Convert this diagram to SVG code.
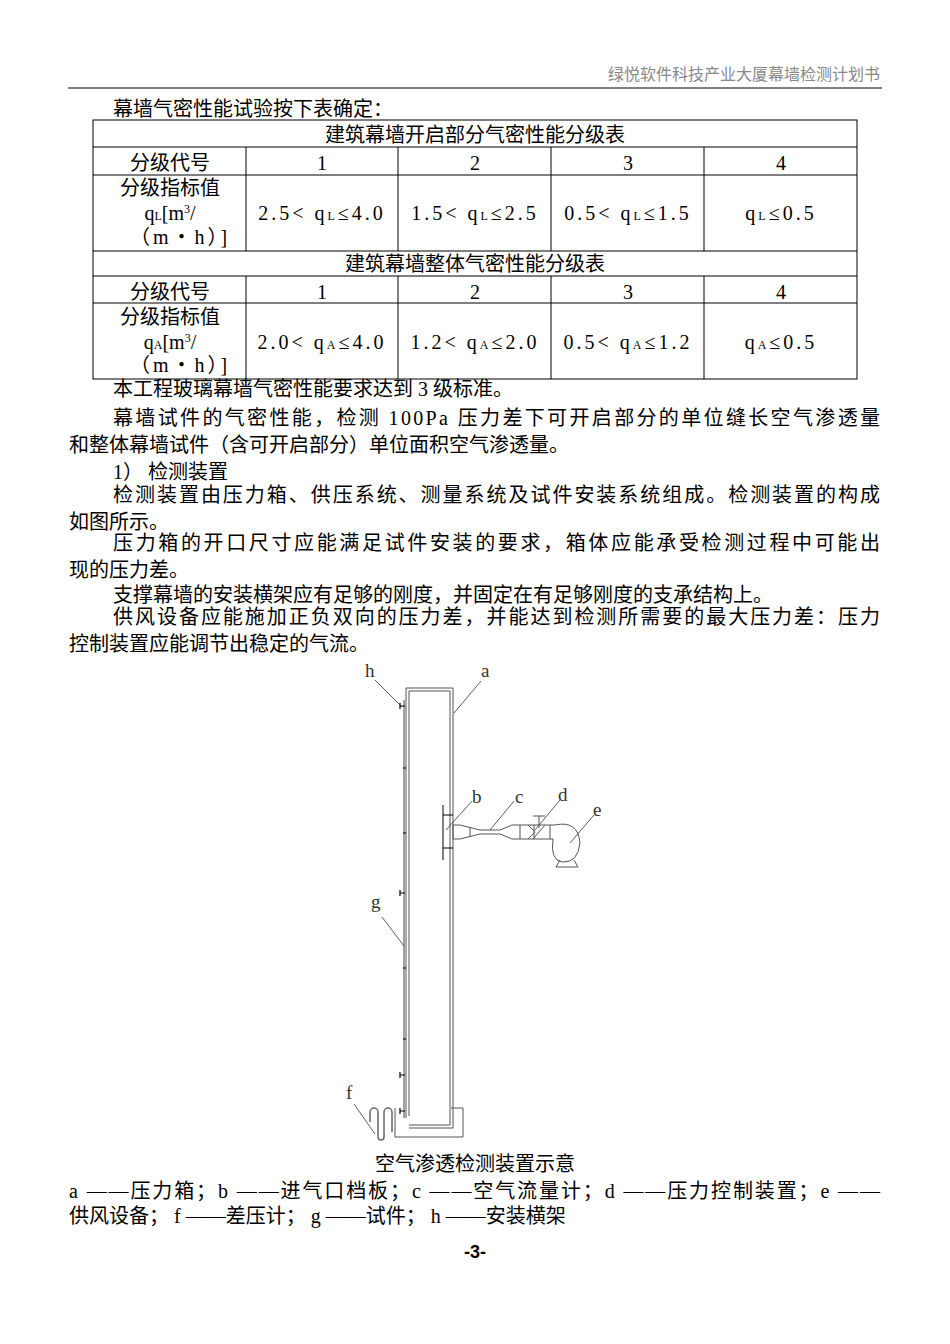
<svg xmlns="http://www.w3.org/2000/svg" width="950" height="1344" viewBox="0 0 950 1344">
<style>
text{font-family:"Liberation Serif","Noto Sans CJK SC",serif;font-size:20px;fill:#000}
.c{text-anchor:middle}
.n{letter-spacing:3px}
.t{stroke:#000;stroke-width:1;fill:none}
.d{stroke:#555;stroke-width:1;fill:none}
.lab{font-size:19px;fill:#333}
</style>
<rect width="950" height="1344" fill="#fff"/>
<text x="880" y="80" text-anchor="end" style="font-size:16px;fill:#888">绿悦软件科技产业大厦幕墙检测计划书</text>
<line x1="68" y1="88" x2="882" y2="88" stroke="#000"/>
<text x="113" y="116">幕墙气密性能试验按下表确定：</text>
<g id="table">
<rect class="t" x="93" y="120" width="764" height="259"/>
<g class="t">
<line x1="93" y1="147" x2="857" y2="147"/><line x1="93" y1="175" x2="857" y2="175"/>
<line x1="93" y1="251" x2="857" y2="251"/><line x1="93" y1="276" x2="857" y2="276"/>
<line x1="93" y1="303" x2="857" y2="303"/>
<line x1="246" y1="147" x2="246" y2="251"/><line x1="398" y1="147" x2="398" y2="251"/><line x1="551" y1="147" x2="551" y2="251"/><line x1="704" y1="147" x2="704" y2="251"/>
<line x1="246" y1="276" x2="246" y2="379"/><line x1="398" y1="276" x2="398" y2="379"/><line x1="551" y1="276" x2="551" y2="379"/><line x1="704" y1="276" x2="704" y2="379"/>
</g>
<text class="c" x="475" y="142">建筑幕墙开启部分气密性能分级表</text>
<text class="c" x="170" y="170">分级代号</text><text class="c" x="322" y="170">1</text><text class="c" x="475" y="170">2</text><text class="c" x="628" y="170">3</text><text class="c" x="781" y="170">4</text>
<text class="c" x="170" y="195">分级指标值</text>
<text class="c" x="170" y="220">q<tspan font-size="12">L</tspan>[m<tspan font-size="12" dy="-7">3</tspan><tspan dy="7">/</tspan></text>
<text class="c n" x="180" y="244">（m・h）]</text>
<text class="c n" x="322" y="220">2.5&lt; q<tspan font-size="12">L</tspan>≤4.0</text>
<text class="c n" x="475" y="220">1.5&lt; q<tspan font-size="12">L</tspan>≤2.5</text>
<text class="c n" x="628" y="220">0.5&lt; q<tspan font-size="12">L</tspan>≤1.5</text>
<text class="c n" x="781" y="220">q<tspan font-size="12">L</tspan>≤0.5</text>
<text class="c" x="475" y="271">建筑幕墙整体气密性能分级表</text>
<text class="c" x="170" y="299">分级代号</text><text class="c" x="322" y="299">1</text><text class="c" x="475" y="299">2</text><text class="c" x="628" y="299">3</text><text class="c" x="781" y="299">4</text>
<text class="c" x="170" y="324">分级指标值</text>
<text class="c" x="170" y="349">q<tspan font-size="12">A</tspan>[m<tspan font-size="12" dy="-7">3</tspan><tspan dy="7">/</tspan></text>
<text class="c n" x="180" y="372">（m・h）]</text>
<text class="c n" x="322" y="349">2.0&lt; q<tspan font-size="12">A</tspan>≤4.0</text>
<text class="c n" x="475" y="349">1.2&lt; q<tspan font-size="12">A</tspan>≤2.0</text>
<text class="c n" x="628" y="349">0.5&lt; q<tspan font-size="12">A</tspan>≤1.2</text>
<text class="c n" x="781" y="349">q<tspan font-size="12">A</tspan>≤0.5</text>
</g>
<text x="113" y="396">本工程玻璃幕墙气密性能要求达到 3 级标准。</text>
<text x="113" y="425" textLength="767">幕墙试件的气密性能，检测 100Pa 压力差下可开启部分的单位缝长空气渗透量</text>
<text x="69" y="452">和整体幕墙试件（含可开启部分）单位面积空气渗透量。</text>
<text x="113" y="479">1） 检测装置</text>
<text x="113" y="502" textLength="767">检测装置由压力箱、供压系统、测量系统及试件安装系统组成。检测装置的构成</text>
<text x="69" y="529">如图所示。</text>
<text x="113" y="550" textLength="767">压力箱的开口尺寸应能满足试件安装的要求，箱体应能承受检测过程中可能出</text>
<text x="69" y="577">现的压力差。</text>
<text x="113" y="602">支撑幕墙的安装横架应有足够的刚度，并固定在有足够刚度的支承结构上。</text>
<text x="113" y="624" textLength="767">供风设备应能施加正负双向的压力差，并能达到检测所需要的最大压力差：压力</text>
<text x="69" y="651">控制装置应能调节出稳定的气流。</text>
<g id="figure">
<path class="d" d="M406 1118 V688 H453 V1128 H409"/>
<path class="d" d="M409 1116 V691 H450 V1125 H409"/>
<line x1="404" y1="700" x2="404" y2="1118" stroke="#444"/>
<g stroke="#000" stroke-width="1.2" fill="none">
<path d="M400 706 h5 M400 703 v6"/><path d="M400 893 h5 M400 890 v6"/><path d="M400 1075 h5 M400 1072 v6"/><path d="M400 1111 h5 M400 1108 v6"/>
<path d="M403 768 h3 M403 833 h3 M403 968 h3 M403 1039 h3"/>
</g>
<path class="d" d="M395 1108 V1137 H463 V1108 H451"/>
<path d="M370 1122 v-10 a4 4 0 0 1 8 0 v25 a3 3 0 0 0 6 0 v-25 a4 4 0 0 1 8 0 v20" fill="none" stroke="#666" stroke-width="1.5"/>
<path stroke="#000" fill="none" d="M443 805 V860 M443 815 h10 M443 848 h10"/>
<path class="d" d="M453 825 H460 L480 830 H500 L512 825 H528 L535 832 L528 839 H512 L500 834 H480 L460 839 H453 Z"/>
<path class="d" d="M528 825 H555 M528 839 H553 M534 825 v14 M550 825 v14 M470 827 v10 M520 825 v14"/>
<path class="d" d="M533 816 h12 M539 816 v12 M533 839 L545 825"/>
<path class="d" d="M555 825 Q578 820 580 843 Q578 863 562 862 Q550 860 553 839"/>
<path class="d" d="M556 867 H578 L574 860 M556 867 L560 860"/>
<g stroke="#333" stroke-width="0.8">
<line x1="375" y1="680" x2="402" y2="707"/><line x1="481" y1="681" x2="454" y2="713"/>
<line x1="472" y1="801" x2="446" y2="830"/><line x1="514" y1="801" x2="490" y2="830"/>
<line x1="560" y1="800" x2="535" y2="830"/><line x1="594" y1="815" x2="570" y2="843"/>
<line x1="382" y1="917" x2="404" y2="946"/><line x1="354" y1="1104" x2="375" y2="1134"/>
</g>
<text class="lab" x="365" y="677">h</text><text class="lab" x="481" y="677">a</text>
<text class="lab" x="472" y="803">b</text><text class="lab" x="515" y="803">c</text><text class="lab" x="558" y="801">d</text><text class="lab" x="593" y="816">e</text>
<text class="lab" x="371" y="908">g</text><text class="lab" x="346" y="1099">f</text>
</g>
<text class="c" x="475" y="1171">空气渗透检测装置示意</text>
<text x="69" y="1198" textLength="811">a ——压力箱；b ——进气口档板；c ——空气流量计；d ——压力控制装置；e ——</text>
<text x="69" y="1223">供风设备； f ——差压计； g ——试件； h ——安装横架</text>
<text class="c" x="475" y="1258" style="font-family:'Liberation Sans',sans-serif;font-weight:bold;font-size:18px">-3-</text>
</svg>
